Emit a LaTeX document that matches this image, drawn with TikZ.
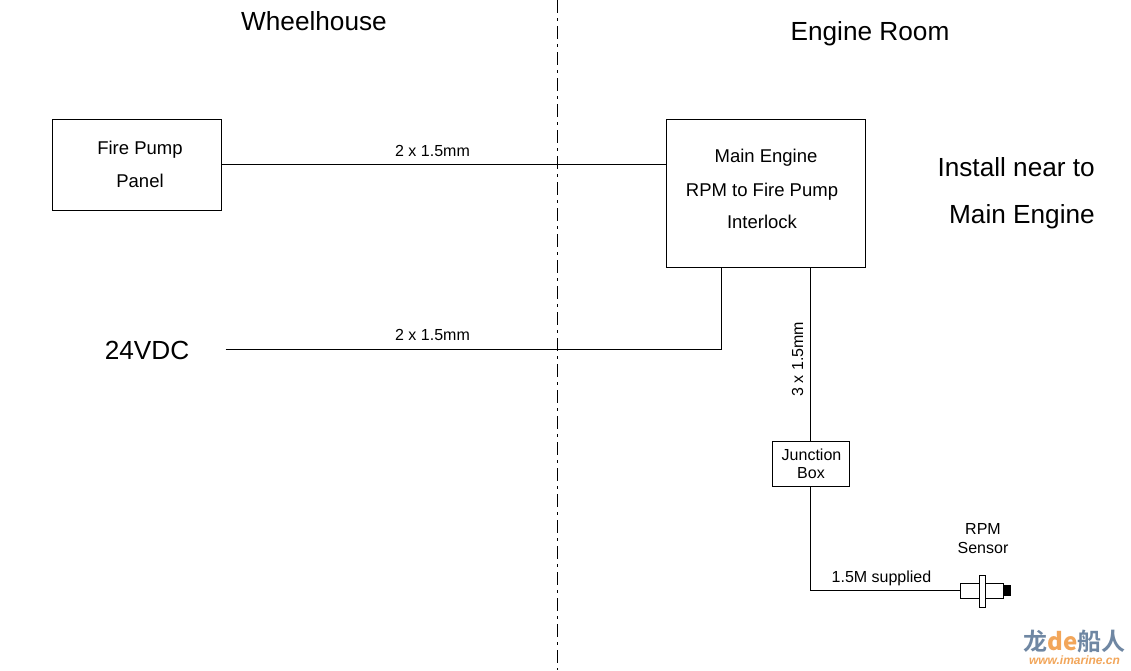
\documentclass[tikz,border=0pt]{standalone}
\usepackage{fontspec}
\setmainfont{Liberation Sans}
\newfontfamily\cjk{Noto Sans CJK SC}[BoldFont={* Bold}]
\definecolor{logoblue}{HTML}{6F87A3}
\definecolor{logoorange}{HTML}{F2A65A}
\tikzset{
  boxnode/.style={draw,line width=1pt,inner sep=0pt,anchor=north west},
  wire/.style={line width=1pt},
  big/.style={font=\fontsize{26.2}{26}\selectfont,inner sep=0pt,anchor=base},
  mid/.style={font=\fontsize{18.5}{18.5}\selectfont,inner sep=0pt,anchor=base},
  small/.style={font=\fontsize{16}{16}\selectfont,inner sep=0pt,anchor=base},
}
\begin{document}
\begin{tikzpicture}[x=1pt,y=-1pt]
\useasboundingbox (0,0) rectangle (1131,670);
\fill[white] (0,0) rectangle (1131,670);
% divider
\coordinate (divtop) at (557.5,0);
\coordinate (divbot) at (557.5,670);
\draw[line width=1pt,dash pattern=on 13pt off 5pt on 3pt off 5pt] (divtop) -- (divbot);
% headings
\node[big] (wheel) at (314,30) {Wheelhouse};
\node[big] (eroom) at (870,40) {Engine Room};
% boxes
\node[boxnode,minimum width=169pt,minimum height=91pt] (panel) at (52,119) {};
\node[mid] (panelA) at (140,154) {Fire Pump};
\node[mid] (panelB) at (140,187) {Panel};
\node[boxnode,minimum width=199pt,minimum height=148pt] (inter) at (666,119) {};
\node[mid] (interA) at (766,162) {Main Engine};
\node[mid] (interB) at (762,196) {RPM to Fire Pump};
\node[mid] (interC) at (762,228) {Interlock};
\node[boxnode,minimum width=77pt,minimum height=45pt] (jbox) at (772,441) {};
\node[small] (jboxA) at (811.5,460) {Junction};
\node[small] (jboxB) at (811,478) {Box};
% side text
\node[big,anchor=base east] (noteA) at (1095,176) {Install near to};
\node[big,anchor=base east] (noteB) at (1095,223) {Main Engine};
\node[big] (vdc) at (147,359) {24VDC};
\coordinate (vdcend) at (225.5,349.5);
% sensor
\node[draw,line width=1pt,inner sep=0pt,minimum width=43pt,minimum height=15pt,anchor=north west] (sbody) at (960,583) {};
\node[draw,line width=1pt,fill=white,inner sep=0pt,minimum width=5.5pt,minimum height=32pt,anchor=north west] (sflange) at (979,575) {};
\node[fill=black,inner sep=0pt,minimum width=7.5pt,minimum height=11pt,anchor=north west] (stip) at (1003,585) {};
\node[small] (sensA) at (983,534) {RPM};
\node[small] (sensB) at (983,553) {Sensor};
% connectors
\draw[wire] (panel.east |- 0,164.5) -- (inter.west |- 0,164.5);
\node[small] (l1) at (432.5,156) {2 x 1.5mm};
\draw[wire] (vdcend) -- (721.5,349.5) -- (721.5,267);
\node[small] (l2) at (432.5,340) {2 x 1.5mm};
\draw[wire] (810.5,267) -- (810.5,441);
\node[small,rotate=90,anchor=base] (l3) at (803,359) {3 x 1.5mm};
\draw[wire] (810.5,486) -- (810.5,590.5) -- (960,590.5);
\node[small] (l4) at (881.5,582) {1.5M supplied};
% watermark
\node[inner sep=0pt,anchor=base,font=\cjk\bfseries\fontsize{24}{24}\selectfont,text=logoblue] (logoA) at (1074.5,650) {龙\textcolor{logoorange}{\textit{de}}船人};
\node[inner sep=0pt,anchor=base,font=\bfseries\itshape\fontsize{12}{12}\selectfont,text=logoorange] (logoB) at (1074.5,664) {www.imarine.cn};
\end{tikzpicture}
\end{document}
